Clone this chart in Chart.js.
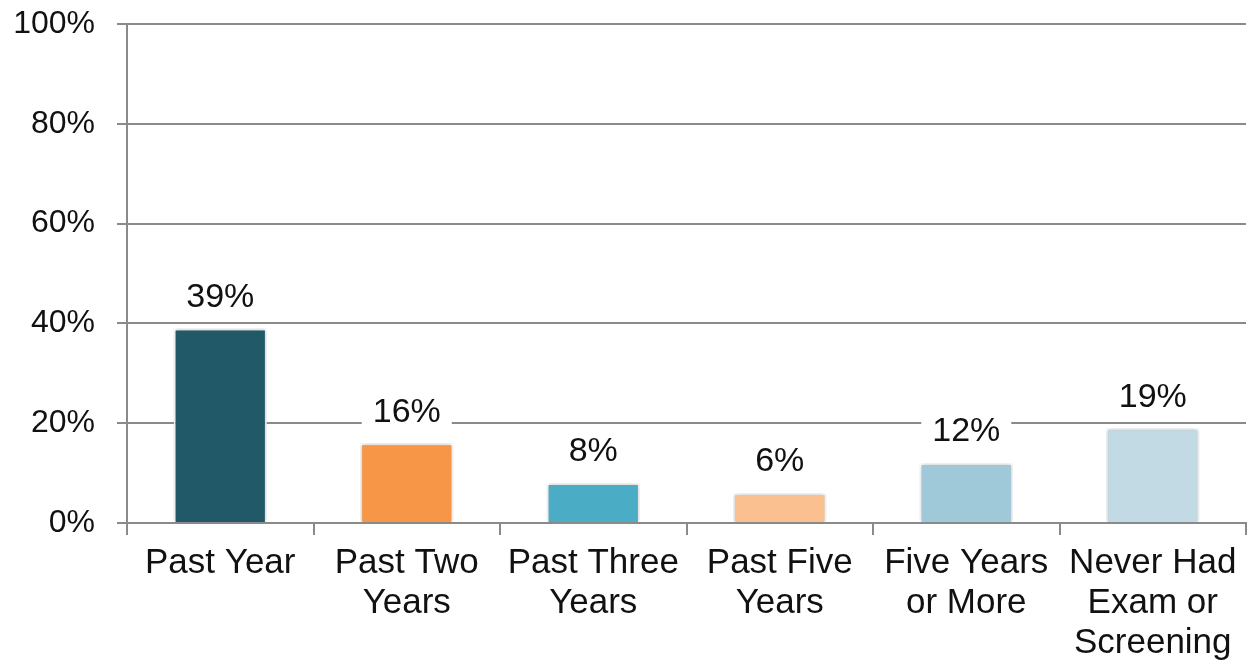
<!DOCTYPE html>
<html>
<head>
<meta charset="utf-8">
<script src="https://cdn.jsdelivr.net/npm/chart.js@4/dist/chart.umd.min.js"></script>
<style>
  html, body { margin: 0; padding: 0; background: #fff; }
  #wrap { width: 1247px; height: 664px; position: relative; }
</style>
</head>
<body>
<div id="wrap"><canvas id="c"></canvas></div>
<script>
// Time since last exam or screening, share of respondents
const categories = [
  ['Past Year'],
  ['Past Two', 'Years'],
  ['Past Three', 'Years'],
  ['Past Five', 'Years'],
  ['Five Years', 'or More'],
  ['Never Had', 'Exam or', 'Screening']
];
const values = [39, 16, 8, 6, 12, 19];
const barColors = ['#215968', '#F79646', '#4BACC6', '#FAC090', '#9FC8D9', '#C1DAE4'];
const yTicks = [0, 20, 40, 60, 80, 100];

const FONT = "'Liberation Sans', Arial, sans-serif";
const GRID = '#8a8a8a';

// Soft shadow around the bars
const barShadow = {
  id: 'barShadow',
  beforeDatasetsDraw(chart) {
    const ctx = chart.ctx;
    ctx.save();
    ctx.shadowColor = 'rgba(0,0,0,0.28)';
    ctx.shadowBlur = 4;
  },
  afterDatasetsDraw(chart) {
    chart.ctx.restore();
  }
};

// Value labels above bars on a white box
const valueLabels = {
  id: 'valueLabels',
  afterDatasetsDraw(chart) {
    const ctx = chart.ctx;
    const meta = chart.getDatasetMeta(0);
    ctx.save();
    ctx.font = '34px ' + FONT;
    ctx.textAlign = 'center';
    ctx.textBaseline = 'middle';
    meta.data.forEach((bar, i) => {
      const text = values[i] + '%';
      const w = ctx.measureText(text).width + 22;
      const cy = bar.y - 32;
      ctx.fillStyle = '#fff';
      ctx.fillRect(bar.x - w / 2, cy - 19, w, 38);
      ctx.fillStyle = '#111';
      ctx.fillText(text, bar.x, cy + 1);
    });
    ctx.restore();
  }
};

new Chart(document.getElementById('c'), {
  type: 'bar',
  data: {
    labels: categories,
    datasets: [{
      data: values,
      backgroundColor: barColors,
      borderColor: '#ffffff',
      borderWidth: 2,
      categoryPercentage: 1,
      barPercentage: 0.5
    }]
  },
  options: {
    responsive: true,
    maintainAspectRatio: false,
    animation: false,
    layout: { padding: { top: 0, right: 1, bottom: 0, left: 0 } },
    plugins: { legend: { display: false }, tooltip: { enabled: false } },
    scales: {
      x: {
        grid: {
          offset: true,
          drawOnChartArea: false,
          drawTicks: true,
          tickLength: 12,
          color: GRID,
          lineWidth: 2
        },
        border: { display: true, color: GRID, width: 2 },
        ticks: {
          color: '#111',
          font: { family: FONT, size: 35, lineHeight: 40 / 35 },
          padding: 8,
          maxRotation: 0,
          autoSkip: false
        },
        afterFit(scale) { scale.height = 141; }
      },
      y: {
        min: 0,
        max: 100,
        afterBuildTicks(scale) { scale.ticks = yTicks.map(v => ({ value: v })); },
        grid: {
          color: GRID,
          lineWidth: 2,
          drawTicks: true,
          tickLength: 10
        },
        border: { display: true, color: GRID, width: 2 },
        ticks: {
          color: '#111',
          font: { family: FONT, size: 32 },
          padding: 22,
          callback: v => v + '%'
        },
        afterFit(scale) {
          scale.width = 127;
          scale.paddingTop = 24;
          scale.paddingBottom = 0;
        }
      }
    }
  },
  plugins: [barShadow, valueLabels]
});
</script>
</body>
</html>
